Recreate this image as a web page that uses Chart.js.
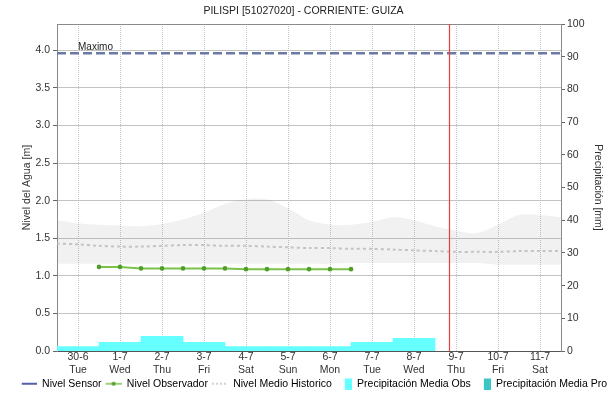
<!DOCTYPE html>
<html>
<head>
<meta charset="utf-8">
<script src="https://cdn.jsdelivr.net/npm/chart.js@4.4.1/dist/chart.umd.min.js"></script>
<style>
  html, body { margin: 0; padding: 0; background: #ffffff; }
  #wrap { width: 610px; height: 403px; position: relative; }
</style>
</head>
<body>
<div id="wrap"><canvas id="chart"></canvas></div>
<script>
// ---- data -------------------------------------------------------------
const chartTitle = 'PILISPI [51027020] - CORRIENTE: GUIZA';
const dayLabels = ['30-6', '1-7', '2-7', '3-7', '4-7', '5-7', '6-7', '7-7', '8-7', '9-7', '10-7', '11-7'];
const weekdayLabels = ['Tue', 'Wed', 'Thu', 'Fri', 'Sat', 'Sun', 'Mon', 'Tue', 'Wed', 'Thu', 'Fri', 'Sat'];

// day index: 0 = 30-6, 1 = 1-7, ...
const observerDays = [0.5, 1, 1.5, 2, 2.5, 3, 3.5, 4, 4.5, 5, 5.5, 6, 6.5];
const observerLevel = [1.12, 1.12, 1.10, 1.10, 1.10, 1.10, 1.10, 1.09, 1.09, 1.09, 1.09, 1.09, 1.09];
const sensorLevel = [];

const histDays = [-0.5, 0, 0.5, 1, 1.5, 2, 2.5, 3, 3.5, 4, 4.5, 5, 5.5, 6, 6.5, 7, 7.5, 8, 8.5, 9, 9.5, 10, 10.5, 11, 11.5];
const histMean = [1.43, 1.42, 1.40, 1.39, 1.39, 1.40, 1.41, 1.41, 1.40, 1.40, 1.39, 1.38, 1.37, 1.37, 1.36, 1.36, 1.35, 1.34, 1.33, 1.32, 1.32, 1.32, 1.33, 1.33, 1.33];
const histUpper = [1.74, 1.70, 1.68, 1.67, 1.66, 1.69, 1.75, 1.84, 1.96, 2.02, 2.02, 1.90, 1.74, 1.68, 1.68, 1.72, 1.78, 1.74, 1.66, 1.60, 1.57, 1.68, 1.81, 1.81, 1.78];
const histLower = [1.16, 1.16, 1.16, 1.16, 1.16, 1.16, 1.16, 1.16, 1.16, 1.16, 1.16, 1.16, 1.16, 1.16, 1.17, 1.17, 1.17, 1.17, 1.17, 1.17, 1.17, 1.15, 1.15, 1.15, 1.15];

const rainDays = [0, 1, 2, 3, 4, 5, 6, 7, 8];
const rainObs = [1.4, 2.7, 4.5, 2.7, 1.4, 1.4, 1.4, 2.7, 3.9];
const rainPro = [];

const maxLevel = 3.96;
const maxLabel = 'Maximo';
const nowDay = 8.83;

// ---- styling ----------------------------------------------------------
const FONT = "'Liberation Sans', Arial, sans-serif";
const C_SENSOR = '#1b2a8c';
const C_OBS_LINE = '#7cc24a';
const C_OBS_POINT = '#4f9e2a';
const C_MEAN = '#c4c4c4';
const C_BAND = 'rgba(120,120,120,0.10)';
const C_RAIN_OBS = '#66ffff';
const C_RAIN_PRO = '#3cc6c6';
const C_MAX = '#6a79a6';
const C_NOW = '#e8403a';
const C_GRID = '#c4c4c4';
const C_AXIS = '#8a8a8a';
const C_TEXT = '#333333';

const pts = (xs, ys) => ys.map((y, i) => ({ x: xs[i], y }));

// small legend symbols, drawn right-aligned inside a fixed-width box
const ICON_W = 20;
function icon(symW, draw) {
  const c = document.createElement('canvas');
  c.width = ICON_W; c.height = 12;
  const g = c.getContext('2d');
  g.translate(ICON_W - symW, 0);
  draw(g, symW, 12);
  return c;
}
const iconSensor = icon(15, (g, w, h) => {
  g.strokeStyle = C_SENSOR; g.lineWidth = 1.5;
  g.beginPath(); g.moveTo(0, h / 2); g.lineTo(w, h / 2); g.stroke();
});
const iconObserver = icon(16, (g, w, h) => {
  g.strokeStyle = C_OBS_LINE; g.lineWidth = 1.5;
  g.beginPath(); g.moveTo(0, h / 2); g.lineTo(w, h / 2); g.stroke();
  g.fillStyle = C_OBS_POINT;
  g.beginPath(); g.arc(w / 2, h / 2, 2, 0, Math.PI * 2); g.fill();
});
const iconMean = icon(16, (g, w, h) => {
  g.strokeStyle = C_MEAN; g.lineWidth = 1.5; g.setLineDash([2, 2]);
  g.beginPath(); g.moveTo(0, h / 2); g.lineTo(w, h / 2); g.stroke();
});
const iconRainObs = icon(7, (g, w, h) => { g.fillStyle = C_RAIN_OBS; g.fillRect(0, 0, w, h); });
const iconRainPro = icon(7, (g, w, h) => { g.fillStyle = C_RAIN_PRO; g.fillRect(0, 0, w, h); });

// ---- plugins ----------------------------------------------------------
const frameAndMarkers = {
  id: 'frameAndMarkers',
  afterDatasetsDraw(chart) {
    const { ctx, chartArea: a, scales } = chart;
    ctx.save();
    ctx.setLineDash([]);
    // top frame line
    ctx.strokeStyle = C_AXIS; ctx.lineWidth = 1;
    ctx.beginPath(); ctx.moveTo(a.left, a.top + 0.5); ctx.lineTo(a.right, a.top + 0.5); ctx.stroke();
    // current time marker
    const xn = Math.round(scales.x.getPixelForValue(nowDay)) + 0.5;
    ctx.strokeStyle = C_NOW; ctx.lineWidth = 1.2;
    ctx.beginPath(); ctx.moveTo(xn, a.top); ctx.lineTo(xn, a.bottom); ctx.stroke();
    // label of the maximum level line
    const ym = scales.y.getPixelForValue(maxLevel);
    ctx.fillStyle = '#222';
    ctx.font = '10px ' + FONT;
    ctx.textBaseline = 'bottom';
    ctx.textAlign = 'left';
    ctx.fillText(maxLabel, scales.x.getPixelForValue(0), ym - 1);
    ctx.restore();
  }
};

// ---- chart ------------------------------------------------------------
Chart.defaults.font.family = FONT;
Chart.defaults.color = C_TEXT;

new Chart(document.getElementById('chart'), {
  data: {
    datasets: [
      { type: 'line', label: 'Nivel Sensor', data: pts([], sensorLevel), borderColor: C_SENSOR,
        borderWidth: 1.5, pointRadius: 0, yAxisID: 'y', legendIcon: iconSensor, order: 3 },
      { type: 'line', label: 'Nivel Observador', data: pts(observerDays, observerLevel),
        borderColor: C_OBS_LINE, borderWidth: 2, pointRadius: 2.3, pointBackgroundColor: C_OBS_POINT,
        pointBorderWidth: 0, tension: 0, yAxisID: 'y', legendIcon: iconObserver, order: 1 },
      { type: 'line', label: 'Nivel Medio Historico', data: pts(histDays, histMean),
        borderColor: C_MEAN, borderWidth: 2, borderDash: [3, 3], pointRadius: 0, tension: 0.3,
        yAxisID: 'y', legendIcon: iconMean, order: 8 },
      { type: 'bar', label: 'Precipitación Media Obs', data: pts(rainDays, rainObs),
        backgroundColor: C_RAIN_OBS, borderWidth: 0, barPercentage: 1, categoryPercentage: 1,
        grouped: false, yAxisID: 'y2', legendIcon: iconRainObs, order: 7 },
      { type: 'bar', label: 'Precipitación Media Pro', data: pts([], rainPro),
        backgroundColor: C_RAIN_PRO, borderWidth: 0, barPercentage: 1, categoryPercentage: 1,
        grouped: false, yAxisID: 'y2', legendIcon: iconRainPro, order: 6 },
      // historical range band
      { type: 'line', label: '_histUpper', data: pts(histDays, histUpper), borderWidth: 0,
        pointRadius: 0, tension: 0.3, fill: '+1', backgroundColor: C_BAND, yAxisID: 'y', order: 10 },
      { type: 'line', label: '_histLower', data: pts(histDays, histLower), borderWidth: 0,
        pointRadius: 0, tension: 0.3, fill: false, yAxisID: 'y', order: 11 },
      // maximum level
      { type: 'line', label: '_max', data: pts([-0.5, 11.5], [maxLevel, maxLevel]), borderColor: C_MAX,
        borderWidth: 2.5, borderDash: [9, 4], pointRadius: 0, yAxisID: 'y', order: 4 }
    ]
  },
  options: {
    responsive: true,
    maintainAspectRatio: false,
    animation: false,
    events: [],
    layout: { padding: { left: 0, right: 3, top: 0, bottom: 4 } },
    plugins: {
      title: {
        display: true, text: chartTitle, color: '#222',
        font: { size: 10.5, weight: 'normal' }, padding: { top: 5, bottom: 6.4 }
      },
      legend: {
        position: 'bottom',
        align: 'end',
        labels: {
          usePointStyle: true, pointStyleWidth: ICON_W, padding: 0,
          font: { size: 10.5 }, color: '#222',
          generateLabels(chart) {
            return chart.data.datasets
              .map((ds, i) => ({ ds, i }))
              .filter(o => o.ds.legendIcon)
              .map(o => ({
                text: o.ds.label, pointStyle: o.ds.legendIcon, datasetIndex: o.i,
                hidden: false, lineWidth: 0, strokeStyle: 'transparent', fillStyle: 'transparent'
              }));
          }
        }
      },
      tooltip: { enabled: false }
    },
    scales: {
      x: {
        type: 'linear', position: 'bottom', min: -0.5, max: 11.5, offset: false,
        afterBuildTicks(s) { s.ticks = dayLabels.map((_, i) => ({ value: i })); },
        afterFit(s) { s.height = 27.4; },
        ticks: {
          autoSkip: false, maxRotation: 0, padding: -1, font: { size: 10.5, lineHeight: 1.3 }, color: C_TEXT,
          callback: (v) => [dayLabels[v], weekdayLabels[v]]
        },
        grid: { color: C_GRID, dash: [2, 2], drawTicks: false, tickLength: 0, offset: false },
        border: { display: true, color: '#555', dash: [1, 1], width: 1 }
      },
      y: {
        type: 'linear', position: 'left', min: 0, max: 4.35,
        afterBuildTicks(s) {
          s.ticks = s.ticks.filter(t => Math.abs(t.value * 2 - Math.round(t.value * 2)) < 1e-6);
        },
        afterFit(s) { s.width = 57; },
        ticks: { stepSize: 0.5, padding: 3, font: { size: 10.5 }, color: C_TEXT,
          callback: (v) => Number(v).toFixed(1) },
        grid: { color: C_GRID, dash: [2, 2], tickLength: 4, tickColor: '#666', tickBorderDash: [] },
        border: { display: true, color: C_AXIS, width: 1 },
        title: { display: true, text: 'Nivel del Agua [m]', font: { size: 10.5 }, color: C_TEXT,
          padding: { top: 20.7, bottom: 0 } }
      },
      y2: {
        type: 'linear', position: 'right', min: 0, max: 100,
        afterFit(s) { s.width = 46; },
        ticks: { stepSize: 10, padding: 2, font: { size: 10.5 }, color: C_TEXT },
        grid: { drawOnChartArea: false, tickLength: 4, tickColor: '#666', tickBorderDash: [] },
        border: { display: true, color: C_AXIS, width: 1 },
        title: { display: true, text: 'Precipitación [mm]', font: { size: 10.5 }, color: C_TEXT,
          padding: { top: 2.7, bottom: 0 } }
      }
    }
  },
  plugins: [frameAndMarkers]
});
</script>
</body>
</html>
